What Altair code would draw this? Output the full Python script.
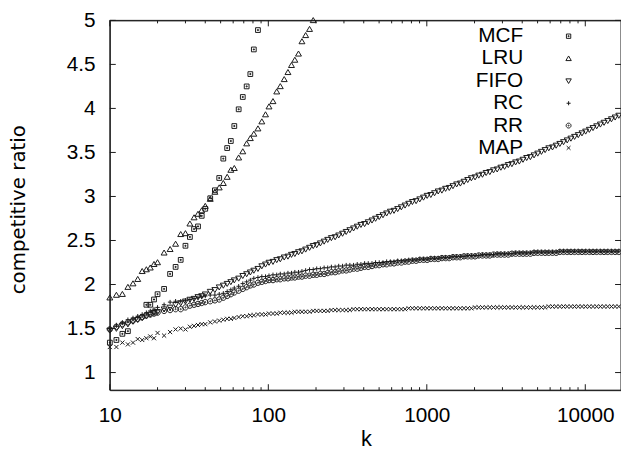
import altair as alt
import pandas as pd

SERIES = ["MCF", "LRU", "FIFO", "RC", "RR", "MAP"]

# shared sample grid of k
K = [10, 11, 12, 13, 14, 15, 16, 17, 18, 19, 20,
     22, 24, 26, 28, 30, 32, 34, 36, 38, 40,
     43, 46, 49, 52, 55, 58, 61, 65, 69, 73, 77, 81, 86, 91, 96,
     101, 107, 113, 119, 126, 133, 140, 147, 155, 163,
     172, 182, 192, 202, 213, 225, 237, 250, 264, 278,
     294, 310, 327, 345, 364, 384, 405, 427, 451, 475,
     501, 529, 558, 589, 621, 655, 691, 729, 769, 811,
     856, 903, 953, 1005, 1060, 1119, 1180, 1245, 1314, 1386,
     1462, 1543, 1628, 1717, 1812, 1911, 2016, 2127, 2244, 2368,
     2498, 2635, 2780, 2933, 3095, 3265, 3444, 3634, 3834, 4045,
     4267, 4502, 4750, 5011, 5287, 5577, 5884, 6208, 6549, 6909,
     7289, 7690, 8113, 8559, 9030, 9527, 10051, 10604, 11187, 11802,
     12451, 13136, 13859, 14621, 15425, 16273]

MCF_K = [10, 11, 12, 13, 17, 18, 19, 20, 22, 24, 26, 28, 30, 32, 34, 36, 38, 40,
         43, 46, 49, 52, 55, 58, 61, 65, 69, 73, 77, 81, 86]
MCF = [1.34, 1.37, 1.44, 1.47, 1.77, 1.77, 1.83, 1.89, 1.95, 2.12, 2.20, 2.28, 2.44, 2.54, 2.63, 2.66, 2.78, 2.86,
       2.98, 3.07, 3.21, 3.43, 3.55, 3.63, 3.80, 3.99, 4.13, 4.25, 4.39, 4.67, 4.89]

LRU = [1.85, 1.88, 1.89, 1.97, 2.01, 2.06, 2.15, 2.17, 2.19, 2.23, 2.25,
       2.36, 2.40, 2.46, 2.57, 2.58, 2.69, 2.76, 2.80, 2.84, 2.89,
       2.97, 3.05, 3.10, 3.15, 3.22, 3.30, 3.32, 3.44, 3.51, 3.60, 3.66, 3.71, 3.77, 3.85, 3.93,
       4.02, 4.08, 4.19, 4.25, 4.33, 4.41, 4.49, 4.55, 4.62, 4.76,
       4.83, 4.90, 5.00]

FIFO = [1.48, 1.50, 1.53, 1.55, 1.58, 1.60, 1.62, 1.64, 1.66, 1.68, 1.69,
        1.72, 1.74, 1.77, 1.79, 1.81, 1.83, 1.84, 1.86, 1.87, 1.89,
        1.92, 1.94, 1.97, 1.99, 2.01, 2.03, 2.05, 2.07, 2.10, 2.12, 2.14, 2.16, 2.18, 2.21, 2.23,
        2.25, 2.26, 2.28, 2.29, 2.31, 2.32, 2.34, 2.35, 2.37, 2.38,
        2.40, 2.42, 2.44, 2.45, 2.47, 2.49, 2.51, 2.53, 2.54, 2.56,
        2.58, 2.60, 2.62, 2.64, 2.66, 2.68, 2.69, 2.71, 2.73, 2.75,
        2.77, 2.79, 2.81, 2.83, 2.84, 2.86, 2.88, 2.90, 2.92, 2.94,
        2.95, 2.97, 2.99, 3.01, 3.02, 3.04, 3.06, 3.07, 3.09, 3.10,
        3.12, 3.14, 3.15, 3.17, 3.19, 3.21, 3.22, 3.24, 3.25, 3.27,
        3.28, 3.30, 3.31, 3.33, 3.34, 3.36, 3.37, 3.39, 3.40, 3.42,
        3.44, 3.45, 3.47, 3.49, 3.51, 3.53, 3.55, 3.56, 3.58, 3.60,
        3.62, 3.64, 3.66, 3.68, 3.70, 3.72, 3.74, 3.76, 3.78, 3.80,
        3.82, 3.84, 3.86, 3.88, 3.90, 3.92]

RC = [1.50, 1.54, 1.57, 1.60, 1.62, 1.64, 1.66, 1.68, 1.70, 1.72, 1.74,
      1.77, 1.80, 1.81, 1.81, 1.82, 1.83, 1.84, 1.85, 1.86, 1.87,
      1.88, 1.88, 1.89, 1.90, 1.92, 1.94, 1.96, 1.98, 2.01, 2.03, 2.05, 2.07, 2.08, 2.09, 2.09,
      2.10, 2.11, 2.11, 2.12, 2.12, 2.13, 2.13, 2.14, 2.14, 2.15,
      2.16, 2.17, 2.17, 2.18, 2.18, 2.19, 2.19, 2.20, 2.20, 2.21,
      2.21, 2.22, 2.22, 2.22, 2.23, 2.23, 2.24, 2.24, 2.24, 2.25,
      2.25, 2.25, 2.26, 2.26, 2.26, 2.27, 2.27, 2.27, 2.28, 2.28,
      2.28, 2.29, 2.29, 2.29, 2.30, 2.30, 2.30, 2.31, 2.31, 2.31,
      2.32, 2.32, 2.32, 2.32, 2.33, 2.33, 2.33, 2.33, 2.34, 2.34,
      2.34, 2.34, 2.35, 2.35, 2.35, 2.35, 2.35, 2.36, 2.36, 2.36,
      2.36, 2.36, 2.37, 2.37, 2.37, 2.37, 2.37, 2.37, 2.37, 2.38,
      2.38, 2.38, 2.38, 2.38, 2.38, 2.38, 2.38, 2.38, 2.38, 2.38,
      2.38, 2.38, 2.38, 2.38, 2.38, 2.38]

RR = [1.49, 1.52, 1.55, 1.57, 1.59, 1.61, 1.63, 1.65, 1.66, 1.67, 1.68,
      1.70, 1.71, 1.72, 1.72, 1.74, 1.76, 1.77, 1.78, 1.79, 1.80,
      1.81, 1.82, 1.83, 1.85, 1.87, 1.89, 1.91, 1.93, 1.95, 1.97, 1.99, 2.00, 2.02, 2.03, 2.04,
      2.05, 2.05, 2.06, 2.06, 2.07, 2.07, 2.08, 2.08, 2.09, 2.09,
      2.10, 2.10, 2.11, 2.11, 2.12, 2.12, 2.13, 2.14, 2.14, 2.15,
      2.16, 2.16, 2.17, 2.18, 2.18, 2.19, 2.20, 2.20, 2.21, 2.22,
      2.22, 2.23, 2.23, 2.24, 2.24, 2.25, 2.25, 2.26, 2.26, 2.27,
      2.27, 2.28, 2.28, 2.28, 2.29, 2.29, 2.29, 2.30, 2.30, 2.30,
      2.31, 2.31, 2.31, 2.32, 2.32, 2.32, 2.32, 2.33, 2.33, 2.33,
      2.33, 2.34, 2.34, 2.34, 2.34, 2.34, 2.35, 2.35, 2.35, 2.35,
      2.35, 2.35, 2.36, 2.36, 2.36, 2.36, 2.36, 2.36, 2.36, 2.37,
      2.37, 2.37, 2.37, 2.37, 2.37, 2.37, 2.37, 2.37, 2.37, 2.37,
      2.37, 2.37, 2.37, 2.37, 2.37, 2.37]

MAP = [1.29, 1.29, 1.34, 1.32, 1.34, 1.38, 1.37, 1.39, 1.41, 1.39, 1.45,
       1.42, 1.46, 1.49, 1.50, 1.49, 1.52, 1.53, 1.54, 1.55, 1.55,
       1.57, 1.58, 1.59, 1.60, 1.61, 1.61, 1.62, 1.63, 1.64, 1.64, 1.65, 1.65, 1.66, 1.66, 1.66,
       1.67, 1.67, 1.67, 1.68, 1.68, 1.68, 1.68, 1.69, 1.69, 1.69,
       1.69, 1.69, 1.70, 1.70, 1.70, 1.70, 1.70, 1.71, 1.71, 1.71,
       1.71, 1.71, 1.71, 1.72, 1.72, 1.72, 1.72, 1.72, 1.72, 1.72,
       1.72, 1.72, 1.72, 1.72, 1.72, 1.72, 1.72, 1.72, 1.73, 1.73,
       1.73, 1.73, 1.73, 1.73, 1.73, 1.73, 1.73, 1.73, 1.73, 1.73,
       1.73, 1.73, 1.73, 1.73, 1.73, 1.73, 1.74, 1.74, 1.74, 1.74,
       1.74, 1.74, 1.74, 1.74, 1.74, 1.74, 1.74, 1.74, 1.74, 1.74,
       1.74, 1.74, 1.74, 1.74, 1.74, 1.74, 1.75, 1.75, 1.75, 1.75,
       1.75, 1.75, 1.75, 1.75, 1.75, 1.75, 1.75, 1.75, 1.75, 1.75,
       1.75, 1.75, 1.75, 1.75, 1.75, 1.75]

X_MAJOR = [10, 100, 1000, 10000]
X_MINOR = [20, 30, 40, 50, 60, 70, 80, 90,
           200, 300, 400, 500, 600, 700, 800, 900,
           2000, 3000, 4000, 5000, 6000, 7000, 8000, 9000]
Y_TICKS = [1, 1.5, 2, 2.5, 3, 3.5, 4, 4.5, 5]

# marker outlines (unit paths)
SHAPES = {
    "MCF": "M-0.8,-0.8L0.8,-0.8L0.8,0.8L-0.8,0.8Z M-0.17,-0.17L0.17,-0.17L0.17,0.17L-0.17,0.17Z",
    "LRU": "M-1,0.75L1,0.75L0,-0.95Z",
    "FIFO": "M-1,-0.75L1,-0.75L0,0.95Z",
    "RC": "M-0.75,0L0.75,0M0,-0.75L0,0.75",
    "RR": "M-0.9,0A0.9,0.9 0 1,1 0.9,0A0.9,0.9 0 1,1 -0.9,0Z M-0.2,0A0.2,0.2 0 1,1 0.2,0A0.2,0.2 0 1,1 -0.2,0Z",
    "MAP": "M-0.7,-0.7L0.7,0.7M-0.7,0.7L0.7,-0.7",
}

rows = []
for k, v in zip(MCF_K, MCF):
    rows.append(("MCF", k, v))
for name, vals in [("LRU", LRU), ("FIFO", FIFO), ("RC", RC), ("RR", RR), ("MAP", MAP)]:
    for k, v in zip(K, vals):
        rows.append((name, k, v))
df = pd.DataFrame(rows, columns=["series", "k", "ratio"])
legdf = pd.DataFrame({"series": SERIES, "row": list(range(len(SERIES)))})

W, H = 517, 374
INK = "#1a1a1a"
FONT = "Liberation Sans"

xscale = alt.Scale(type="log", domain=[10, 16800], nice=False)
yscale = alt.Scale(domain=[0.8, 5], nice=False, zero=False)
shape_scale = alt.Scale(domain=SERIES, range=[SHAPES[s] for s in SERIES])

x_axis = alt.Axis(values=X_MAJOR, format="d", ticks=False, domain=False, grid=False,
                  labelFont=FONT, labelFontSize=21, labelColor="black", labelPadding=15,
                  labelFlush=False, labelOverlap=False, labelBound=False,
                  title="k", titleFont=FONT, titleFontSize=22, titleFontWeight="normal",
                  titleColor="black", titleX=259, titleY=56, titleBaseline="alphabetic",
                  titleAlign="center")
y_axis = alt.Axis(values=Y_TICKS, format="~g", ticks=False, domain=False, grid=False,
                  labelFont=FONT, labelFontSize=21, labelColor="black", labelPadding=15,
                  labelFlush=False, labelOverlap=False, labelBaseline="middle",
                  title="competitive ratio", titleFont="DejaVu Sans", titleFontSize=20,
                  titleFontWeight="normal", titleColor="black", titleX=-86, titleY=191,
                  titleAngle=270, titleBaseline="alphabetic", titleAlign="center")

X_ENC = alt.X("k:Q", scale=xscale, axis=x_axis, title="k")
Y_ENC = alt.Y("ratio:Q", scale=yscale, axis=y_axis, title="competitive ratio")

points = alt.Chart(df).mark_point(filled=False, size=36, strokeWidth=1, color=INK, opacity=1).encode(
    x=X_ENC, y=Y_ENC,
    shape=alt.Shape("series:N", scale=shape_scale, legend=None),
)

# tick glyphs: unit paths scaled by sqrt(size)/2 = 3 px per unit
TICK_UP_MAJOR = "M0,0L0,-2"
TICK_UP_MINOR = "M0,0L0,-1"
TICK_DOWN_MAJOR = "M0,0L0,2"
TICK_DOWN_MINOR = "M0,0L0,1"
TICK_RIGHT = "M0,0L2,0"
TICK_LEFT = "M0,0L-2,0"


def xticks(values, ypix, shape):
    tdf = pd.DataFrame({"k": values})
    return alt.Chart(tdf).mark_point(shape=shape, size=36, filled=False, strokeWidth=1,
                                     color=INK, opacity=1).encode(x=X_ENC, y=alt.value(ypix))


def yticks(xpix, shape):
    tdf = pd.DataFrame({"ratio": Y_TICKS})
    return alt.Chart(tdf).mark_point(shape=shape, size=36, filled=False, strokeWidth=1,
                                     color=INK, opacity=1).encode(y=Y_ENC, x=alt.value(xpix))


# border: one rectangle glyph of aspect H/W centred in the plot, scaled to W wide
FRAME_PATH = "M-1,-{a}L1,-{a}L1,{a}L-1,{a}Z".format(a=round(H / W, 5))
frame = alt.Chart(pd.DataFrame({"one": [1]})).mark_point(
    shape=FRAME_PATH, size=W * W, filled=False, strokeWidth=1, color=INK, opacity=1).encode(
    x=alt.value(W / 2), y=alt.value(H / 2))

tick_layers = [
    xticks(X_MAJOR, H, TICK_UP_MAJOR), xticks(X_MINOR, H, TICK_UP_MINOR),
    xticks(X_MAJOR, 0, TICK_DOWN_MAJOR), xticks(X_MINOR, 0, TICK_DOWN_MINOR),
    yticks(0, TICK_RIGHT), yticks(W, TICK_LEFT),
]

leg_base = alt.Chart(legdf).transform_calculate(ly="16 + 22.6 * datum.row")
leg_text = leg_base.mark_text(align="right", baseline="middle", font=FONT, fontSize=21,
                              color="black").encode(
    x=alt.value(418), y=alt.Y("ly:Q", scale=None), text="series:N")
leg_sym = leg_base.mark_point(filled=False, size=30, strokeWidth=1, color=INK, opacity=1).encode(
    x=alt.value(464), y=alt.Y("ly:Q", scale=None),
    shape=alt.Shape("series:N", scale=shape_scale, legend=None))

chart = alt.layer(points, *tick_layers, frame, leg_text, leg_sym).properties(
    width=W, height=H,
    autosize=alt.AutoSizeParams(type="none"),
    padding={"left": 103, "top": 10, "right": 0, "bottom": 59},
).configure(background="white").configure_view(stroke=INK, strokeWidth=1)

chart.save("out.html", embed_options={"renderer": "svg", "actions": False})
